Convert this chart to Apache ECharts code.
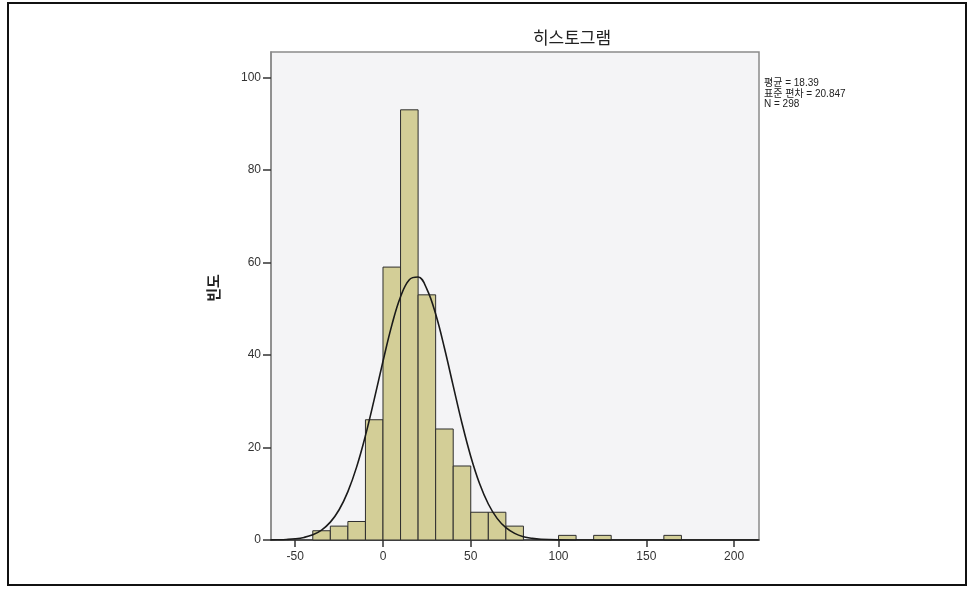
<!DOCTYPE html>
<html>
<head>
<meta charset="utf-8">
<script src="https://cdn.jsdelivr.net/npm/echarts@6/dist/echarts.min.js"></script>
<style>
  html, body { margin: 0; padding: 0; background: #fff; }
  #main { width: 971px; height: 589px; }
</style>
</head>
<body>
<div id="main"></div>
<script>
// histogram bins (start of each 10-wide bin) and their counts
const binStart = [-40, -30, -20, -10, 0, 10, 20, 30, 40, 50, 60, 70, 80, 90, 100, 110, 120, 130, 140, 150, 160];
const binWidth = 10;
const binCount = [2, 3, 4, 26, 59, 93, 53, 24, 16, 6, 6, 3, 0, 0, 1, 0, 1, 0, 0, 0, 1];

// normal curve
const curveX = [-64, -60, -55, -50, -45, -40, -35, -30, -25, -20, -15, -10, -5, 0, 5, 10, 15, 20, 25, 30, 35, 40, 45, 50, 55, 60, 65, 70, 75, 80, 85, 90, 100, 110, 214];
const curveY = [0.02, 0.05, 0.12, 0.26, 0.56, 1.13, 2.15, 3.86, 6.54, 10.46, 15.81, 22.56, 30.39, 38.65, 46.4, 52.59, 56.28, 56.86, 54.24, 48.84, 41.52, 33.32, 25.25, 18.07, 12.2, 7.78, 4.68, 2.66, 1.43, 0.72, 0.35, 0.16, 0.03, 0, 0];

const xTicks = [-50, 0, 50, 100, 150, 200];
const yTicks = [0, 20, 40, 60, 80, 100];

const statsLines = ["평균 = 18.39", "표준 편차 = 20.847", "N = 298"];

const font = "'Liberation Sans', 'Noto Sans CJK KR', sans-serif";
const chart = echarts.init(document.getElementById("main"));

chart.setOption({
  animation: false,
  title: {
    text: "히스토그램",
    left: 567,
    top: 26,
    textAlign: "center",
    textStyle: { fontFamily: font, fontSize: 17, fontWeight: "normal", color: "#222" },
  },
  grid: {
    left: 271,
    top: 52,
    right: 212,
    bottom: 49,
    show: true,
    backgroundColor: "#f4f4f6",
    borderColor: "#8a8a8a",
    borderWidth: 1.5,
  },
  xAxis: {
    type: "value",
    min: -63.8,
    max: 214.2,
    splitLine: { show: false },
    axisLine: { show: true, onZero: false, lineStyle: { color: "#333", width: 1.5 } },
    axisTick: { show: true, length: 7, customValues: xTicks, lineStyle: { color: "#333", width: 1.5 } },
    axisLabel: { customValues: xTicks, margin: 11, fontFamily: font, fontSize: 12, color: "#333" },
  },
  yAxis: {
    type: "value",
    min: 0,
    max: 105.5,
    splitLine: { show: false },
    axisLine: { show: true, onZero: false, lineStyle: { color: "#8a8a8a", width: 1.5 } },
    axisTick: { show: true, length: 8, customValues: yTicks, lineStyle: { color: "#333", width: 1.5 } },
    axisLabel: { customValues: yTicks, margin: 10, fontFamily: font, fontSize: 12, color: "#333" },
  },
  series: [
    {
      type: "custom",
      data: binStart.map((s, i) => [s, s + binWidth, binCount[i]]),
      encode: { x: [0, 1], y: 2 },
      renderItem: function (params, api) {
        const n = api.value(2);
        if (!n) return null;
        const p0 = api.coord([api.value(0), n]);
        const p1 = api.coord([api.value(1), 0]);
        return {
          type: "rect",
          shape: { x: p0[0], y: p0[1], width: p1[0] - p0[0], height: p1[1] - p0[1] },
          style: { fill: "#d3ce97", stroke: "#2e2e2e", lineWidth: 1 },
        };
      },
      z: 2,
    },
    {
      type: "line",
      data: curveX.map((x, i) => [x, curveY[i]]),
      smooth: 0.4,
      symbol: "none",
      lineStyle: { color: "#1a1a1a", width: 1.6 },
      z: 3,
    },
  ],
  graphic: [
    {
      type: "rect",
      shape: { x: 8, y: 3, width: 958, height: 582 },
      style: { fill: "none", stroke: "#111", lineWidth: 2 },
      silent: true,
    },
    {
      type: "text",
      x: 215,
      y: 288,
      rotation: Math.PI / 2,
      style: {
        text: "빈도",
        fontFamily: font,
        fontSize: 15,
        fontWeight: "bold",
        fill: "#222",
        textAlign: "center",
        textVerticalAlign: "middle",
      },
    },
    {
      type: "text",
      x: 764,
      y: 78,
      style: {
        text: statsLines.join("\n"),
        fontFamily: font,
        fontSize: 10,
        lineHeight: 10.5,
        fill: "#222",
        textAlign: "left",
        textVerticalAlign: "top",
      },
    },
  ],
});
</script>
</body>
</html>
